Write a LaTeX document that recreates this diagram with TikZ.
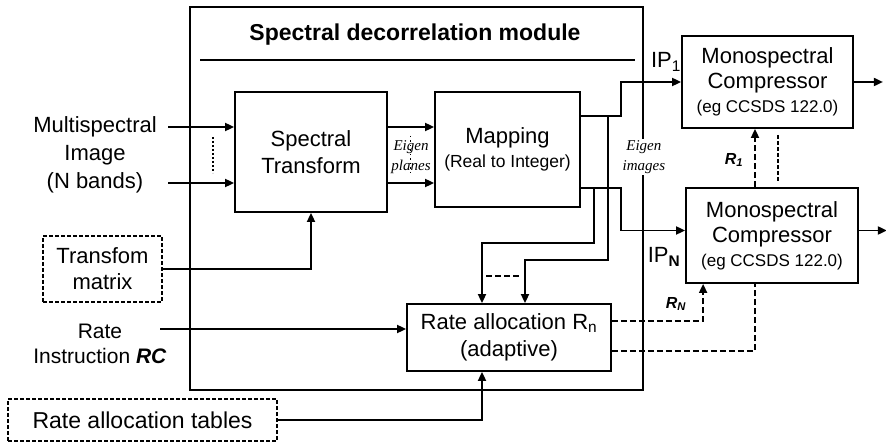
\documentclass[tikz,border=0pt]{standalone}
\usepackage{fontspec}
\setmainfont{Liberation Sans}
\newfontfamily\eigenfont{Liberation Serif}
\usetikzlibrary{arrows.meta}

\begin{document}
\begin{tikzpicture}[x=1pt,y=-1pt,line width=1.8pt,
    every node/.style={font=\fontsize{22}{27}\selectfont},
    box/.style={draw,align=center,inner sep=0pt},
    dashbox/.style={draw,dash pattern=on 4pt off 2pt,align=center,inner sep=0pt},
    dashline/.style={dash pattern=on 6pt off 3pt},
    arr/.style={-{Triangle[length=9pt,width=8pt]}},
    eigen/.style={font=\fontsize{15}{20}\eigenfont\itshape,align=center,inner sep=1pt},
    rlab/.style={font=\fontsize{16}{18}\bfseries\itshape}]
      \useasboundingbox (0,0) rectangle (886,443);

      % Spectral decorrelation module
      \node[draw,minimum width=453pt,minimum height=383pt,inner sep=0pt] (module) at (416.5,198.5) {};
      \node[font=\fontsize{23}{27}\bfseries] (title) at (415,35) {Spectral decorrelation module};
      \draw (200,60) -- (635,60);

      % Blocks
      \node[box,minimum width=152pt,minimum height=120pt] (st) at (311,152) {Spectral\\Transform};
      \node[box,minimum width=145pt,minimum height=115pt] (map) at (507.5,149.5)
        {Mapping\\[-3pt]{\fontsize{17.5}{20}\selectfont (Real to Integer)}};
      \node[box,minimum width=204pt,minimum height=67pt] (rate) at (509,337.5)
        {Rate allocation R\textsubscript{n}\\(adaptive)};
      \node[box,minimum width=171pt,minimum height=92pt] (mono1) at (767.5,82)
        {Monospectral\\[-2pt]Compressor\\[-3pt]{\fontsize{17}{20}\selectfont (eg CCSDS 122.0)}};
      \node[box,minimum width=172pt,minimum height=95pt] (monoN) at (772,235.5)
        {Monospectral\\[-2pt]Compressor\\[-3pt]{\fontsize{17}{20}\selectfont (eg CCSDS 122.0)}};

      % Inputs
      \node[align=center,font=\fontsize{22}{28}\selectfont] (msi) at (95,155) {Multispectral\\Image\\(N bands)};
      \node[dashbox,minimum width=119pt,minimum height=66pt,font=\fontsize{22}{26}\selectfont] (tm) at (102.5,269) {Transfom\\matrix};
      \node[align=center,font=\fontsize{21}{25}\selectfont] (rc) at (100,344) {Rate\\Instruction \textbf{\textit{RC}}};
      \node[dashbox,minimum width=269pt,minimum height=42pt,font=\fontsize{23}{27}\selectfont] (rt) at (142.5,420) {Rate allocation tables};

      \coordinate (in1) at (168,127);
      \coordinate (inN) at (168,183);
      \coordinate (rcout) at (160,329);

      % Connectors
      \draw[arr] (in1) -- (in1 -| st.west);
      \draw[arr] (inN) -- (inN -| st.west);
      \draw[dash pattern=on 2pt off 2pt] (213,137) -- (213,173);
      \draw[arr] (st.east |- in1) -- (map.west |- in1);
      \draw[arr] (st.east |- inN) -- (map.west |- inN);
      \draw[dash pattern=on 1.5pt off 3pt,line width=1pt] (410,136) -- (410,176);
      \node[eigen] (planes) at (411,157) {Eigen\\planes};

      \draw[arr] (tm.east) -| (st.south);
      \draw[arr] (rcout) -- (rcout -| rate.west);
      \draw[arr] (rt.east) -| ([xshift=-27pt]rate.south);

      \draw[arr] ([yshift=33.5pt]map.east) -- ++(40,0) |- (mono1.west);
      \draw[arr] ([yshift=-38.5pt]map.east) -- ++(40,0) |- ([yshift=5pt]monoN.west);
      \draw[arr] ([xshift=13pt,yshift=-38.5pt]map.east) -- ++(0,55) -| ([xshift=-27pt]rate.north);
      \draw[arr] ([xshift=27pt,yshift=33.5pt]map.east) -- ++(0,144) -| ([xshift=16pt]rate.north);
      \draw[dashline] (486,276) -- (519,276);

      \draw[arr] (mono1.east) -- ++(29,0);
      \draw[arr] ([yshift=5pt]monoN.east) -- ++(28,0);

      % Rates
      \draw[dashline,arr] ([xshift=-17pt]monoN.north) -- ([xshift=-17pt]monoN.north |- mono1.south);
      \draw[dash pattern=on 4pt off 2pt] (778,135) -- (778,182);
      \draw[dashline,arr] ([yshift=16.5pt]rate.east) -| ([xshift=18pt]monoN.south west);
      \draw[dashline] ([yshift=-13.5pt]rate.east) -| ([xshift=-17pt]monoN.south);

      % Labels
      \node[eigen,fill=white] (images) at (module.east |- 0,157) {Eigen\\images};
      \node (ip1) at (666,62) {IP\textsubscript{1}};
      \node (ipN) at (664,257) {IP\textsubscript{\textbf{N}}};
      \node[rlab] (r1) at (734,160) {R\textsubscript{1}};
      \node[rlab] (rN) at (676,304) {R\textsubscript{N}};
\end{tikzpicture}
\end{document}
